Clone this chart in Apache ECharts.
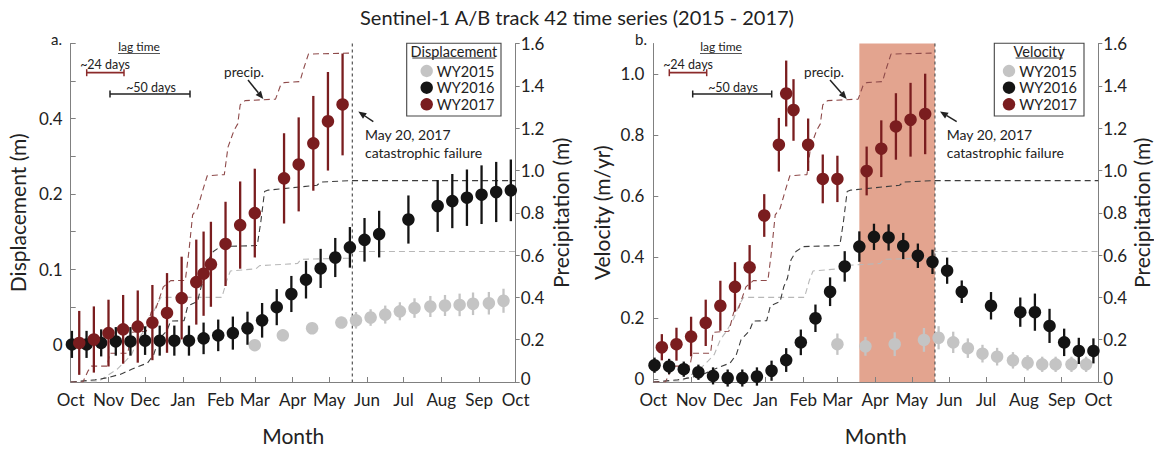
<!DOCTYPE html>
<html><head><meta charset="utf-8">
<script src="https://cdn.jsdelivr.net/npm/echarts@6/dist/echarts.min.js"></script>
<style>html,body{margin:0;padding:0;background:#fff}#c{width:1154px;height:451px}</style>
</head><body><div id="c"></div>
<script>
// ---------- axes / ticks ----------
const monthDays   = [0,31,61,92,123,151,182,212,243,273,304,335,365];
const monthLabels = ['Oct','Nov','Dec','Jan','Feb','Mar','Apr','May','Jun','Jul','Aug','Sep','Oct'];
const dispTickValues = [0,0.1,0.2,0.3];
const dispTickLabels = ['0','0.1','0.2','0.4'];
const velTickValues  = [0,0.2,0.4,0.6,0.8,1.0];
const velTickLabels  = ['0','0.2','0.4','0.6','0.8','1.0'];
const precipTickValues = [0,0.2,0.4,0.6,0.8,1.0,1.2,1.4,1.6];
const precipTickLabels = ['0','0.2','0.4','0.6','0.8','1.0','1.2','1.4','1.6'];

// ---------- WY2015 (grey) ----------
const wy2015Days = [151,174,198,222,234,246,258,270,282,295,307,319,330,343,355];
const wy2015Disp = [-0.001,0.012,0.0215,0.029,0.032,0.0357,0.0396,0.044,0.0483,0.0504,0.0517,0.0525,0.054,0.0547,0.058];
const wy2015DispErr = [0,0,0,0,0.011,0.011,0.012,0.012,0.013,0.014,0.014,0.015,0.015,0.015,0.016];
const wy2015Vel = [0.114,0.107,0.114,0.128,0.135,0.12,0.101,0.083,0.073,0.061,0.053,0.048,0.048,0.048,0.048];
const wy2015VelErr = [0.035,0.031,0.039,0.039,0.038,0.035,0.032,0.029,0.029,0.027,0.025,0.025,0.025,0.025,0.025];

// ---------- WY2016 (black) ----------
const wy2016Days = [1,13,25,37,49,61,73,85,97,109,121,133,145,157,169,181,193,205,217,229,241,253,277,301,313,325,337,349,361];
const wy2016Disp = [0.000,0.000,0.002,0.004,0.004,0.005,0.005,0.005,0.005,0.008,0.012,0.015,0.0215,0.032,0.0495,0.067,0.086,0.101,0.1155,0.129,0.139,0.1466,0.166,0.184,0.1905,0.195,0.199,0.2026,0.2048];
const wy2016DispErr = [0.018,0.018,0.018,0.019,0.019,0.019,0.02,0.02,0.02,0.021,0.021,0.022,0.022,0.023,0.024,0.024,0.025,0.026,0.026,0.027,0.029,0.031,0.032,0.0345,0.036,0.0375,0.039,0.040,0.041];
const wy2016Vel = [0.045,0.041,0.032,0.022,0.010,0.003,0.003,0.008,0.027,0.062,0.120,0.199,0.286,0.369,0.434,0.466,0.464,0.436,0.404,0.384,0.355,0.286,0.240,0.219,0.219,0.174,0.120,0.092,0.092];
const wy2016VelErr = [0.025,0.025,0.025,0.025,0.028,0.028,0.028,0.030,0.033,0.039,0.042,0.045,0.047,0.050,0.050,0.043,0.043,0.043,0.040,0.040,0.043,0.037,0.045,0.048,0.061,0.056,0.045,0.043,0.041];

// ---------- WY2017 (red) ----------
const wy2017Days = [7,19,31,43,55,67,79,91,103,109,115,127,139,151,175,187,199,211,223];
const wy2017Disp = [0.002,0.0065,0.015,0.020,0.0237,0.029,0.0418,0.0616,0.0828,0.094,0.1065,0.1336,0.1586,0.1746,0.2207,0.2393,0.2673,0.2966,0.319];
const wy2017DispErr = [0.0425,0.044,0.0444,0.0457,0.048,0.050,0.053,0.055,0.0565,0.056,0.0565,0.056,0.058,0.059,0.060,0.0625,0.063,0.0655,0.0677];
const wy2017Vel = [0.104,0.114,0.139,0.184,0.240,0.302,0.366,0.536,0.768,0.936,0.882,0.768,0.656,0.656,0.682,0.755,0.828,0.850,0.869];
const wy2017VelErr = [0.043,0.054,0.065,0.076,0.082,0.081,0.073,0.070,0.088,0.108,0.101,0.086,0.080,0.076,0.080,0.093,0.109,0.121,0.132];

// ---------- cumulative precipitation (m) ----------
const precip2015Days = [0,22,30,38,45,50,55,60,66,70,74,124,128,131,152,155,186,189,228,231,365];
const precip2015Vals = [0,0,0.03,0.06,0.10,0.13,0.20,0.24,0.30,0.36,0.40,0.40,0.48,0.525,0.535,0.55,0.56,0.58,0.585,0.617,0.617];
const precip2016Days = [0,20,30,41,50,63,68,72,79,82,93,96,104,107,110,113,117,123,153,156,159,162,202,205,230,365];
const precip2016Vals = [0,0.01,0.02,0.037,0.06,0.09,0.128,0.20,0.243,0.288,0.29,0.36,0.38,0.45,0.49,0.578,0.617,0.64,0.645,0.76,0.90,0.907,0.93,0.945,0.952,0.952];
const precip2017Days = [0,10,14,17,30,32,47,49,62,66,70,76,82,94,97,100,104,108,112,126,129,134,137,139,143,168,172,175,188,191,195,231];
const precip2017Vals = [0,0,0.05,0.075,0.075,0.136,0.136,0.235,0.24,0.33,0.35,0.45,0.479,0.48,0.62,0.79,0.82,0.90,0.975,0.98,1.11,1.19,1.22,1.31,1.33,1.337,1.40,1.415,1.42,1.48,1.55,1.555];

// ---------- events ----------
const failureDay = 231;           // May 20, 2017
const shadeStartDay = 169;        // shaded window (panel b)
const shadeEndDay = 231;

// ---------- style ----------
const FONT = 'Lato, "Open Sans", sans-serif';
const TXT = '#222';
const AX = '#808080';
const C15 = '#c4c4c4', C16 = '#141414', C17 = '#7a1d1f';
const P15 = '#b8b8b8', P16 = '#3c3c3c', P17 = '#8e4a4a';

const zip2 = (a,b) => a.map((x,i)=>[x,b[i]]);
const zip3 = (a,b,c) => a.map((x,i)=>[x,b[i],c[i]]);
const lookup = (vals, labels) => v => { const i = vals.findIndex(t => Math.abs(t - v) < 1e-6); return i >= 0 ? labels[i] : ''; };

function xAxisCfg(gi){
  return {type:'value', gridIndex:gi, min:0, max:365,
    name:'Month', nameLocation:'middle', nameGap:43,
    nameTextStyle:{fontSize:21, color:TXT, fontFamily:FONT},
    axisLine:{show:true, onZero:false, lineStyle:{color:AX, width:1}},
    axisTick:{show:true, inside:true, length:5, customValues:monthDays, lineStyle:{color:AX}},
    axisLabel:{customValues:monthDays, formatter:lookup(monthDays, monthLabels), color:TXT, fontSize:17, fontFamily:FONT, margin:9},
    splitLine:{show:false}};
}
const precipLabel = lookup(precipTickValues, precipTickLabels);
function precipAxisCfg(gi, gap){
  return {type:'value', gridIndex:gi, position:'right', min:0, max:1.6, interval:0.2,
    name:'Precipitation (m)', nameLocation:'middle', nameRotate:90, nameGap:gap,
    nameTextStyle:{fontSize:21, color:TXT, fontFamily:FONT},
    axisLine:{show:true, onZero:false, lineStyle:{color:AX, width:1}},
    axisTick:{show:true, inside:false, length:4, lineStyle:{color:AX}},
    axisLabel:{formatter: v => Math.abs(v) < 1e-9 ? '{lo|' + precipLabel(v) + '}' : precipLabel(v),
      rich:{lo:{fontSize:17, color:TXT, fontFamily:FONT, padding:[0,0,7,0]}},
      color:TXT, fontSize:17, fontFamily:FONT, margin:5},
    splitLine:{show:false}};
}

function barSeries(xi, yi, days, vals, errs, color, z){
  return {type:'custom', xAxisIndex:xi, yAxisIndex:yi, z, silent:true, animation:false,
    data: zip3(days, vals, errs),
    renderItem(params, api){
      const x = api.value(0), v = api.value(1), e = api.value(2);
      if (!(e > 0)) return {type:'group', children:[]};
      const lo = api.coord([x, v - e]), hi = api.coord([x, v + e]);
      return {type:'line', shape:{x1:lo[0], y1:lo[1], x2:hi[0], y2:hi[1]}, style:{stroke:color, lineWidth:2.3}};
    }};
}
function dotSeries(xi, yi, days, vals, color, z){
  return {type:'scatter', xAxisIndex:xi, yAxisIndex:yi, z, silent:true, animation:false,
    symbol:'circle', symbolSize:12.5, itemStyle:{color, opacity:1}, data: zip2(days, vals)};
}
function precipSeries(xi, yi, days, vals, color, z){
  return {type:'line', xAxisIndex:xi, yAxisIndex:yi, z, silent:true, animation:false,
    showSymbol:false, symbol:'none', data: zip2(days, vals),
    lineStyle:{color, width:1.1, type:[6,4]}};
}
function failureSeries(xi, yi){
  return {type:'custom', xAxisIndex:xi, yAxisIndex:yi, z:3, silent:true, animation:false,
    data:[[failureDay, 0]],
    renderItem(params, api){
      const cs = params.coordSys; const x = api.coord([api.value(0), 0])[0];
      return {type:'line', shape:{x1:x, y1:cs.y, x2:x, y2:cs.y + cs.height},
        style:{stroke:'#555', lineWidth:1.2, lineDash:[3,3]}};
    }};
}

// ---------- annotations (layout) ----------
function txt(x, y, s, size, align, extra){
  return Object.assign({type:'text', x, y, silent:true, style:{text:s, fill:TXT, fontSize:size, fontFamily:FONT,
    align:align||'center', textAlign:align||'center', verticalAlign:'middle', textVerticalAlign:'middle'}}, extra||{});
}
function seg(x1,y1,x2,y2,color,w){
  return {type:'line', silent:true, shape:{x1,y1,x2,y2}, style:{stroke:color, lineWidth:w||1}};
}
function capBar(x1,x2,y,color){
  return [seg(x1,y,x2,y,color,1.7), seg(x1,y-3.5,x1,y+3.5,color,1.5), seg(x2,y-3.5,x2,y+3.5,color,1.5)];
}
function arrow(x1,y1,x2,y2){
  const a = Math.atan2(y2-y1, x2-x1), L = 8, W = 3.4;
  const bx = x2 - L*Math.cos(a), by = y2 - L*Math.sin(a);
  const px = -Math.sin(a)*W, py = Math.cos(a)*W;
  return [seg(x1,y1,bx,by,TXT,1.5),
    {type:'polygon', silent:true, shape:{points:[[x2,y2],[bx+px,by+py],[bx-px,by-py]]}, style:{fill:TXT}}];
}
function legendBox(x0, x1, title, titleW, cx, tx){
  const y0 = 43.3, y1 = 116, mid = (x0+x1)/2;
  const rows = [['WY2015', C15, 71], ['WY2016', C16, 87.7], ['WY2017', C17, 104.3]];
  const els = [{type:'rect', silent:true, shape:{x:x0, y:y0, width:x1-x0, height:y1-y0}, style:{fill:'#fff', stroke:'#444', lineWidth:1.1}},
    txt(mid, 51.5, title, 14.5), seg(mid-titleW/2, 58, mid+titleW/2, 58, '#333', 1)];
  rows.forEach(r => {
    els.push({type:'circle', silent:true, shape:{cx, cy:r[2], r:6.2}, style:{fill:r[1]}});
    els.push(txt(tx, r[2], r[0], 14.5, 'right'));
  });
  return els;
}
function panelNotes(o){
  return [
    txt(o.lab[0], o.lab[1], o.lab[2], 15, 'right'),
    txt(o.lag[0], 46.5, 'lag time', 12), seg(o.lag[1], 53.5, o.lag[2], 53.5, '#555', 1),
    txt(o.d24[0], 64.5, '~24 days', 12.5), ...capBar(o.d24[1], o.d24[2], 72.7, '#8b2a2a'),
    txt(o.d50[0], 87.5, '~50 days', 12.5), ...capBar(o.d50[1], o.d50[2], 94, '#222'),
    txt(o.pr[0], 71.5, 'precip.', 13.5), ...arrow(o.pr[1], 80, o.pr[2], 99),
    ...arrow(o.may[0], 121.7, o.may[1], 111.5),
    txt(o.may[2], 134, 'May 20, 2017', 14, 'left'),
    txt(o.may[2], 152, 'catastrophic failure', 14, 'left')
  ];
}

const graphics = [
  ...panelNotes({lab:[62, 39, 'a.'], lag:[139, 118, 160], d24:[105, 86.7, 124], d50:[151, 110, 190], pr:[244, 248, 263.3], may:[373.3, 358.3, 365]}),
  ...panelNotes({lab:[647, 39, 'b.'], lag:[721, 700, 742], d24:[688, 669.3, 706.7], d50:[733, 692.7, 771.7], pr:[824, 830, 846.7], may:[956.7, 940, 946.7]}),
  ...legendBox(406.7, 501, 'Displacement', 83, 426.7, 494.5),
  ...legendBox(994.3, 1084, 'Velocity', 47, 1009, 1077)
];

const chart = echarts.init(document.getElementById('c'), null, {renderer:'svg', width:1154, height:451});
chart.setOption({
  animation:false,
  backgroundColor:'#fff',
  title:{text:'Sentinel-1 A/B track 42 time series (2015 - 2017)', left:'center', top:2,
    textStyle:{fontSize:20, fontWeight:'normal', color:TXT, fontFamily:FONT}},
  grid:[
    {left:70.7, right:1154-515.7, top:43.5, bottom:451-393.2},
    {left:653.3, right:1154-1098.3, top:43.5, bottom:451-393.2}
  ],
  xAxis:[xAxisCfg(0), xAxisCfg(1)],
  yAxis:[
    {type:'value', gridIndex:0, position:'left', min:-0.05, max:0.4, interval:0.05,
      name:'Displacement (m)', nameLocation:'middle', nameRotate:90, nameGap:43,
      nameTextStyle:{fontSize:21, color:TXT, fontFamily:FONT},
      axisLine:{show:true, onZero:false, lineStyle:{color:AX, width:1}},
      axisTick:{show:true, inside:true, length:5, lineStyle:{color:AX}},
      axisLabel:{formatter:lookup(dispTickValues, dispTickLabels), color:TXT, fontSize:17, fontFamily:FONT, margin:8},
      splitLine:{show:false}},
    precipAxisCfg(0, 34),
    {type:'value', gridIndex:1, position:'left', min:-0.01, max:1.1, splitNumber:5,
      name:'Velocity (m/yr)', nameLocation:'middle', nameRotate:90, nameGap:41,
      nameTextStyle:{fontSize:21, color:TXT, fontFamily:FONT},
      axisLine:{show:true, onZero:false, lineStyle:{color:AX, width:1}},
      axisTick:{show:true, inside:true, length:5, customValues:velTickValues, lineStyle:{color:AX}},
      axisLabel:{customValues:velTickValues, formatter:lookup(velTickValues, velTickLabels), color:TXT, fontSize:17, fontFamily:FONT, margin:9},
      splitLine:{show:false}},
    precipAxisCfg(1, 32)
  ],
  series:[
    // panel b shading
    {type:'custom', xAxisIndex:1, yAxisIndex:2, z:0, silent:true, animation:false,
      data:[[shadeStartDay, shadeEndDay]], encode:{x:[0,1]},
      renderItem(params, api){
        const cs = params.coordSys;
        const x1 = api.coord([api.value(0), 0])[0], x2 = api.coord([api.value(1), 0])[0];
        return {type:'rect', shape:{x:x1, y:cs.y, width:x2-x1, height:cs.height}, style:{fill:'#e3a48f'}};
      }},
    // precipitation, panel a
    precipSeries(0,1, precip2015Days, precip2015Vals, P15, 2),
    precipSeries(0,1, precip2016Days, precip2016Vals, P16, 2),
    precipSeries(0,1, precip2017Days, precip2017Vals, P17, 2),
    // precipitation, panel b
    precipSeries(1,3, precip2015Days, precip2015Vals, P15, 2),
    precipSeries(1,3, precip2016Days, precip2016Vals, P16, 2),
    precipSeries(1,3, precip2017Days, precip2017Vals, P17, 2),
    failureSeries(0,0), failureSeries(1,2),
    // displacement
    barSeries(0,0, wy2015Days, wy2015Disp, wy2015DispErr, C15, 4),
    dotSeries(0,0, wy2015Days, wy2015Disp, C15, 5),
    barSeries(0,0, wy2016Days, wy2016Disp, wy2016DispErr, C16, 6),
    dotSeries(0,0, wy2016Days, wy2016Disp, C16, 7),
    barSeries(0,0, wy2017Days, wy2017Disp, wy2017DispErr, C17, 8),
    dotSeries(0,0, wy2017Days, wy2017Disp, C17, 9),
    // velocity
    barSeries(1,2, wy2015Days, wy2015Vel, wy2015VelErr, C15, 4),
    dotSeries(1,2, wy2015Days, wy2015Vel, C15, 5),
    barSeries(1,2, wy2016Days, wy2016Vel, wy2016VelErr, C16, 6),
    dotSeries(1,2, wy2016Days, wy2016Vel, C16, 7),
    barSeries(1,2, wy2017Days, wy2017Vel, wy2017VelErr, C17, 8),
    dotSeries(1,2, wy2017Days, wy2017Vel, C17, 9)
  ],
  graphic:{elements: graphics}
});
</script>
</body></html>
